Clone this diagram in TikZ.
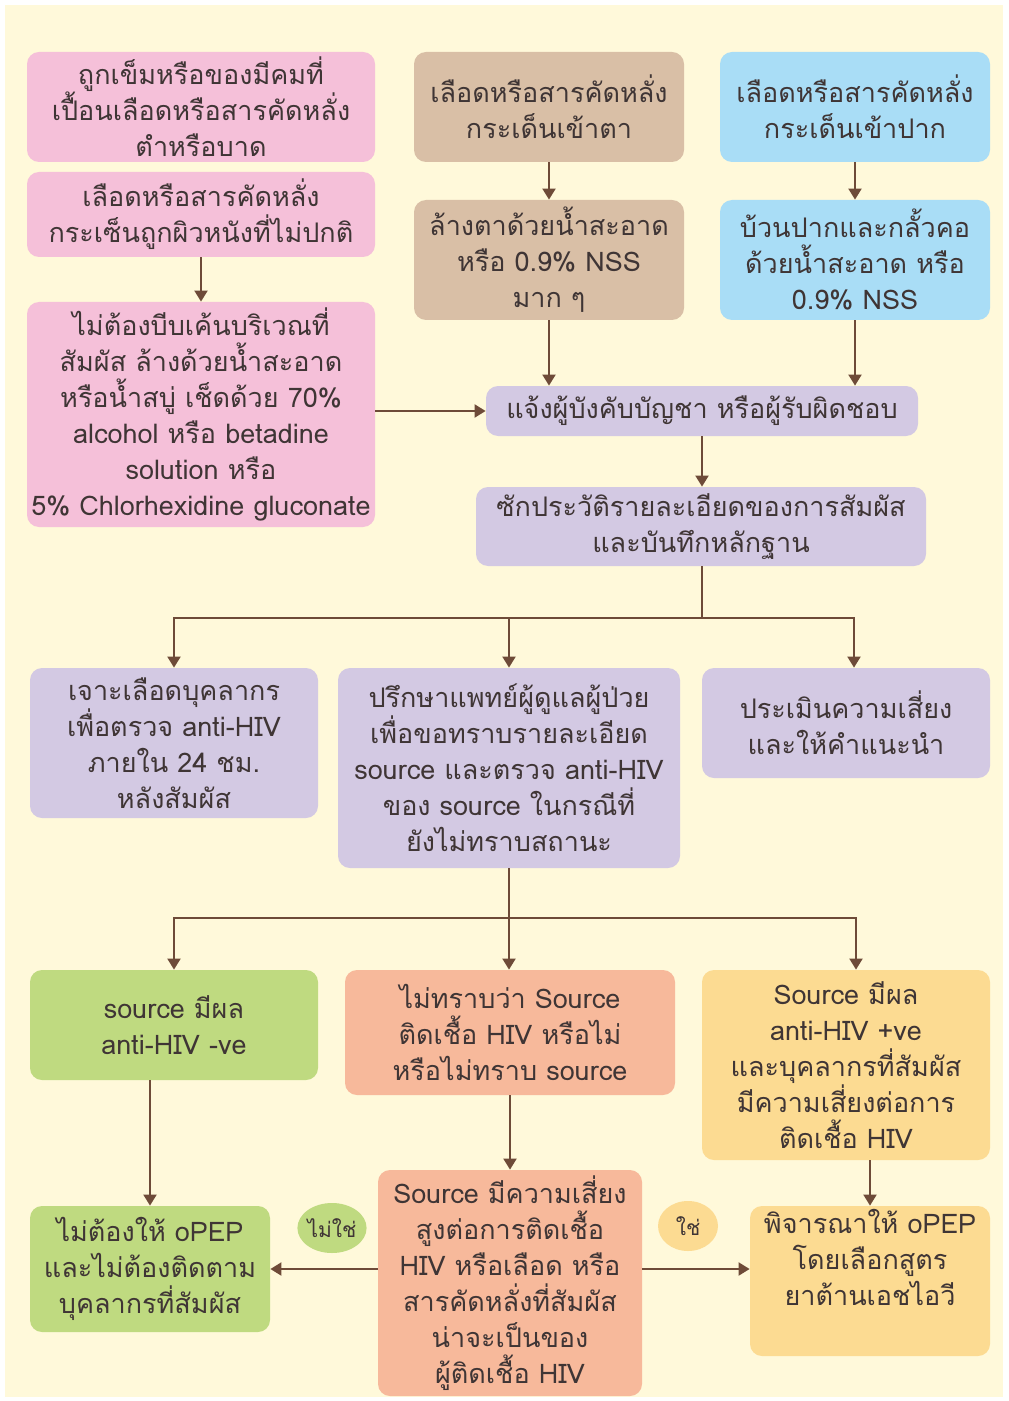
\documentclass[tikz,border=0pt]{standalone}
\usepackage{fontspec}
\setmainfont[Script=Thai]{Loma}
\usetikzlibrary{arrows.meta,shapes.geometric}
\definecolor{bgcream}{HTML}{FFF9DA}
\definecolor{cpink}{HTML}{F5C0D9}
\definecolor{ctan}{HTML}{D9BFA6}
\definecolor{cblue}{HTML}{A9DDF6}
\definecolor{clav}{HTML}{D3C9E3}
\definecolor{cgreen}{HTML}{BFDA80}
\definecolor{csalmon}{HTML}{F7B99B}
\definecolor{cyellow}{HTML}{FCDB92}
\definecolor{ctext}{HTML}{3F3535}
\definecolor{carrow}{HTML}{6E4B38}
\tikzset{
  box/.style={rounded corners=6pt, draw=none, align=center, inner sep=0pt,
    text=ctext, font=\fontsize{13.5}{18}\selectfont},
  arr/.style={draw=carrow, line width=1pt, -{Triangle[length=5.5pt,width=6.5pt]}},
  ln/.style={draw=carrow, line width=1pt},
  tag/.style={ellipse, draw=none, text=ctext, inner sep=0pt, font=\fontsize{10.5}{12}\selectfont}
}
\begin{document}
\begin{tikzpicture}[x=0.5pt,y=-0.5pt]
\useasboundingbox (0,0) rectangle (1008,1401);
\fill[white] (0,0) rectangle (1008,1401);
\fill[bgcream] (5,5) rectangle (1003,1397);

% top row
\node[box, fill=cpink, minimum width=174pt, minimum height=55pt] (A) at (201,107)
  {ถูกเข็มหรือของมีคมที่\\เปื้อนเลือดหรือสารคัดหลั่ง\\ตำหรือบาด};
\node[box, fill=cpink, minimum width=174pt, minimum height=42.5pt] (B) at (201,214.5)
  {เลือดหรือสารคัดหลั่ง\\กระเซ็นถูกผิวหนังที่ไม่ปกติ};
\node[box, fill=cpink, minimum width=174pt, minimum height=112.5pt] (C) at (201,414.5)
  {ไม่ต้องบีบเค้นบริเวณที่\\สัมผัส ล้างด้วยน้ำสะอาด\\หรือน้ำสบู่ เช็ดด้วย 70\%\\alcohol หรือ betadine\\solution หรือ\\5\% Chlorhexidine gluconate};
\node[box, fill=ctan, minimum width=135pt, minimum height=55pt] (D) at (549,107)
  {เลือดหรือสารคัดหลั่ง\\กระเด็นเข้าตา};
\node[box, fill=ctan, minimum width=135pt, minimum height=60pt] (E) at (549,260)
  {ล้างตาด้วยน้ำสะอาด\\หรือ 0.9\% NSS\\มาก ๆ};
\node[box, fill=cblue, minimum width=135pt, minimum height=55pt] (F) at (855,107)
  {เลือดหรือสารคัดหลั่ง\\กระเด็นเข้าปาก};
\node[box, fill=cblue, minimum width=135pt, minimum height=60pt] (G) at (855,260)
  {บ้วนปากและกลั้วคอ\\ด้วยน้ำสะอาด หรือ\\0.9\% NSS};

% middle
\node[box, fill=clav, minimum width=216pt, minimum height=25pt] (H) at (702,411)
  {แจ้งผู้บังคับบัญชา หรือผู้รับผิดชอบ};
\node[box, fill=clav, minimum width=225pt, minimum height=39.5pt] (I) at (701,526.5)
  {ซักประวัติรายละเอียดของการสัมผัส\\และบันทึกหลักฐาน};
\node[box, fill=clav, minimum width=144pt, minimum height=75pt] (J) at (174,743)
  {เจาะเลือดบุคลากร\\เพื่อตรวจ anti-HIV\\ภายใน 24 ชม.\\หลังสัมผัส};
\node[box, fill=clav, minimum width=171pt, minimum height=100pt] (K) at (509,768)
  {ปรึกษาแพทย์ผู้ดูแลผู้ป่วย\\เพื่อขอทราบรายละเอียด\\source และตรวจ anti-HIV\\ของ source ในกรณีที่\\ยังไม่ทราบสถานะ};
\node[box, fill=clav, minimum width=144pt, minimum height=55pt] (L) at (846,723)
  {ประเมินความเสี่ยง\\และให้คำแนะนำ};

% lower
\node[box, fill=cgreen, minimum width=144pt, minimum height=55pt] (M) at (174,1025)
  {source มีผล\\anti-HIV -ve};
\node[box, fill=csalmon, minimum width=165pt, minimum height=62.5pt] (N) at (510,1032.5)
  {ไม่ทราบว่า Source\\ติดเชื้อ HIV หรือไม่\\หรือไม่ทราบ source};
\node[box, fill=cyellow, minimum width=144pt, minimum height=95pt] (O) at (846,1065)
  {Source มีผล\\anti-HIV +ve\\และบุคลากรที่สัมผัส\\มีความเสี่ยงต่อการ\\ติดเชื้อ HIV};
\node[box, fill=cgreen, minimum width=120pt, minimum height=63pt] (P) at (150,1269)
  {ไม่ต้องให้ oPEP\\และไม่ต้องติดตาม\\บุคลากรที่สัมผัส};
\node[box, fill=csalmon, minimum width=132pt, minimum height=113pt] (Q) at (510,1283)
  {Source มีความเสี่ยง\\สูงต่อการติดเชื้อ\\HIV หรือเลือด หรือ\\สารคัดหลั่งที่สัมผัส\\น่าจะเป็นของ\\ผู้ติดเชื้อ HIV};
\node[box, fill=cyellow, minimum width=120pt, minimum height=75pt] (R) at (870,1281)
  {พิจารณาให้ oPEP\\โดยเลือกสูตร\\ยาต้านเอชไอวี\\\strut};

\node[tag, fill=cgreen, minimum width=29pt, minimum height=25pt] (no) at (332,1228) {ไม่ใช่};
\node[tag, fill=cyellow, minimum width=30pt, minimum height=25pt] (yes) at (688,1226) {ใช่};

% connectors
\draw[arr] (B.south) -- (C.north);
\draw[arr] (D.south) -- (E.north);
\draw[arr] (F.south) -- (G.north);
\draw[arr] (E.south) -- (E.south |- H.north);
\draw[arr] (G.south) -- (G.south |- H.north);
\draw[arr] (C.east |- H.west) -- (H.west);
\draw[arr] (H.south) -- (H.south |- I.north);

\coordinate (s1) at (702,618);
\draw[ln] (I.south -| s1) -- (s1);
\draw[arr] (s1) -| (J.north);
\draw[arr] (s1) -| (K.north);
\draw[arr] (s1) -| ([xshift=4pt]L.north);

\coordinate (s2) at (509,918);
\draw[ln] (K.south) -- (s2);
\draw[arr] (s2) -| (M.north);
\draw[arr] (s2) -- (N.north -| s2);
\draw[arr] (s2) -| ([xshift=5pt]O.north);

\draw[arr] (M.south -| P.north) -- (P.north);
\draw[arr] (N.south) -- (Q.north);
\draw[arr] (O.south -| R.north) -- (R.north);
\draw[arr] (Q.west |- P.east) -- (P.east);
\draw[arr] (Q.east |- P.east) -- (R.west |- P.east);
\end{tikzpicture}
\end{document}
